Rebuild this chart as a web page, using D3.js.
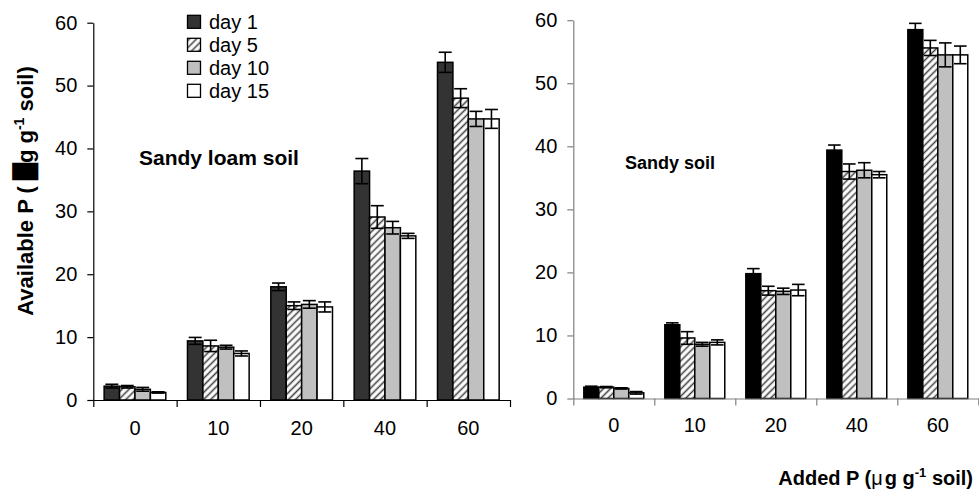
<!DOCTYPE html>
<html><head><meta charset="utf-8">
<script src="https://cdn.jsdelivr.net/npm/d3@7"></script>
<style>
body{margin:0;background:#fff}
svg{display:block}
text{font-family:Arial,"Liberation Sans",sans-serif;fill:#000}
</style></head>
<body><svg id="c" width="979" height="493"></svg>
<script>
// ---- data ----
const categories = ["0", "10", "20", "40", "60"];
const seriesNames = ["day 1", "day 5", "day 10", "day 15"];
const yTicks = [0, 10, 20, 30, 40, 50, 60];

// Sandy loam soil
const loamDay1  = [2.2, 9.4, 18.0, 36.4, 53.7];
const loamDay5  = [2.1, 8.6, 15.0, 29.1, 48.0];
const loamDay10 = [1.7, 8.4, 15.2, 27.4, 44.7];
const loamDay15 = [1.2, 7.4, 14.8, 26.1, 44.7];
const loamErr1  = [0.3, 0.55, 0.6, 2.0, 1.6];
const loamErr5  = [0.2, 0.9, 0.6, 1.8, 1.5];
const loamErr10 = [0.3, 0.3, 0.6, 1.0, 1.2];
const loamErr15 = [0.1, 0.4, 0.8, 0.4, 1.5];

// Sandy soil
const sandDay1  = [1.8, 11.7, 19.8, 39.4, 58.5];
const sandDay5  = [1.8, 9.6, 17.1, 36.0, 55.6];
const sandDay10 = [1.6, 8.6, 17.0, 36.2, 54.5];
const sandDay15 = [0.9, 8.9, 17.2, 35.5, 54.5];
const sandErr1  = [0.15, 0.3, 0.8, 0.8, 1.0];
const sandErr5  = [0.1, 1.0, 0.7, 1.2, 1.2];
const sandErr10 = [0.1, 0.3, 0.5, 1.2, 1.9];
const sandErr15 = [0.2, 0.4, 0.9, 0.5, 1.4];

const svg = d3.select("#c");
const defs = svg.append("defs");
const pat = defs.append("pattern").attr("id", "hatch")
  .attr("patternUnits", "userSpaceOnUse").attr("width", 5).attr("height", 5)
  .attr("patternTransform", "rotate(45)");
pat.append("rect").attr("width", 5).attr("height", 5).attr("fill", "#fff");
pat.append("line").attr("x1", 1.5).attr("y1", 0).attr("x2", 1.5).attr("y2", 5)
  .attr("stroke", "#444").attr("stroke-width", 1.6);

function drawPanel(cfg) {
  const x = d3.scaleBand().domain(categories).range(cfg.xr).padding(0);
  const inner = d3.scaleBand().domain(seriesNames)
    .range([x.bandwidth() * 0.13, x.bandwidth() * 0.87]).padding(0);
  const y = d3.scaleLinear().domain([0, 60]).range(cfg.yr);
  const g = svg.append("g");

  const rows = [];
  cfg.values.forEach((vals, si) => {
    vals.forEach((v, ci) => rows.push({s: seriesNames[si], si, c: categories[ci], v, e: cfg.errs[si][ci]}));
  });

  // bars
  g.selectAll("rect.bar").data(rows).join("rect")
    .attr("x", d => x(d.c) + inner(d.s))
    .attr("y", d => y(d.v))
    .attr("width", inner.bandwidth())
    .attr("height", d => y(0) - y(d.v))
    .attr("fill", d => cfg.fills[d.si])
    .attr("stroke", "#000").attr("stroke-width", 1.5);

  // error bars
  const eb = g.selectAll("g.err").data(rows).join("g")
    .attr("transform", d => `translate(${x(d.c) + inner(d.s) + inner.bandwidth() / 2},0)`);
  const cw = inner.bandwidth() * 0.42;
  eb.append("line").attr("x1", 0).attr("x2", 0)
    .attr("y1", d => y(d.v - d.e)).attr("y2", d => y(d.v + d.e))
    .attr("stroke", "#000").attr("stroke-width", 1.6);
  eb.append("line").attr("x1", -cw).attr("x2", cw)
    .attr("y1", d => y(d.v + d.e)).attr("y2", d => y(d.v + d.e))
    .attr("stroke", "#000").attr("stroke-width", 1.6);
  eb.append("line").attr("x1", -cw).attr("x2", cw)
    .attr("y1", d => y(d.v - d.e)).attr("y2", d => y(d.v - d.e))
    .attr("stroke", "#000").attr("stroke-width", 1.6);

  // y axis
  const ya = g.append("g").attr("transform", `translate(${cfg.xr[0]},0)`)
    .call(d3.axisLeft(y).tickValues(yTicks).tickSize(6).tickSizeOuter(0).tickPadding(10).tickFormat(d3.format("d")));
  ya.selectAll("path,line").attr("stroke", cfg.axisColor).attr("stroke-width", 1.2);
  ya.selectAll("text").attr("font-size", 20).attr("fill", "#000");

  // x axis: boundary ticks
  const xi = d3.scaleLinear().domain([0, categories.length]).range(cfg.xr);
  const xb = g.append("g").attr("transform", `translate(0,${y(0)})`)
    .call(d3.axisBottom(xi).tickValues(d3.range(categories.length + 1)).tickSize(7).tickSizeOuter(0).tickFormat(""));
  xb.selectAll("path,line").attr("stroke", cfg.axisColor).attr("stroke-width", 1.2);
  // category labels
  const xl = g.append("g").attr("transform", `translate(0,${y(0)})`)
    .call(d3.axisBottom(x).tickSize(0).tickPadding(cfg.xpad));
  xl.select(".domain").remove();
  xl.selectAll("text").attr("font-size", 20).attr("fill", "#000");

  g.append("text").attr("x", cfg.titleX).attr("y", cfg.titleY)
    .attr("font-size", cfg.titleSize).attr("font-weight", "bold").text(cfg.title);
}

drawPanel({
  xr: [93.3, 510], yr: [400, 22.7],
  values: [loamDay1, loamDay5, loamDay10, loamDay15],
  errs: [loamErr1, loamErr5, loamErr10, loamErr15],
  fills: ["#333333", "url(#hatch)", "#c0c0c0", "#ffffff"],
  axisColor: "#000", xpad: 21,
  title: "Sandy loam soil", titleX: 139, titleY: 165, titleSize: 21
});

drawPanel({
  xr: [573.3, 978.3], yr: [398.5, 20.2],
  values: [sandDay1, sandDay5, sandDay10, sandDay15],
  errs: [sandErr1, sandErr5, sandErr10, sandErr15],
  fills: ["#000000", "url(#hatch)", "#c0c0c0", "#ffffff"],
  axisColor: "#808080", xpad: 19,
  title: "Sandy soil", titleX: 625, titleY: 169, titleSize: 18
});

// legend
const legendFills = ["#333333", "url(#hatch)", "#c0c0c0", "#ffffff"];
const lg = svg.append("g");
seriesNames.forEach((n, i) => {
  const base = 29.3 + i * 23;
  lg.append("rect").attr("x", 187.5).attr("y", base - 14).attr("width", 13).attr("height", 13)
    .attr("fill", legendFills[i]).attr("stroke", "#000").attr("stroke-width", 1.3);
  lg.append("text").attr("x", 209).attr("y", base).attr("font-size", 20).text(n);
});

// y axis label
const yl = svg.append("text").attr("transform", "translate(33,191) rotate(-90)")
  .attr("text-anchor", "middle").attr("font-size", 22).attr("font-weight", "bold");
yl.append("tspan").text("Available P ( ");
yl.append("tspan").attr("font-family", "DejaVu Sans").text("█");
yl.append("tspan").text("g g");
yl.append("tspan").attr("font-size", 14).attr("dy", -9).text("-1");
yl.append("tspan").attr("dy", 9).text(" soil)");

// x axis label
const xlab = svg.append("text").attr("x", 973).attr("y", 485)
  .attr("text-anchor", "end").attr("font-size", 20).attr("font-weight", "bold");
xlab.append("tspan").text("Added P (");
xlab.append("tspan").attr("font-weight", "normal").text("μ");
xlab.append("tspan").attr("dx", 2).text("g g");
xlab.append("tspan").attr("font-size", 13).attr("dy", -8).text("-1");
xlab.append("tspan").attr("dy", 8).text(" soil)");
</script></body></html>
